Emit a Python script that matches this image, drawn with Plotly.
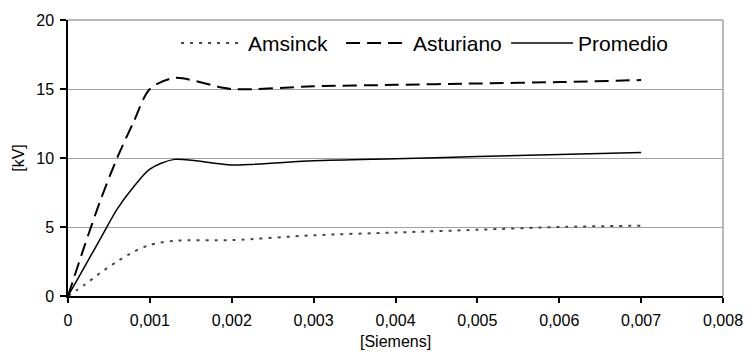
import plotly.graph_objects as go

x_vals = [0, 0.0002, 0.0004, 0.0006, 0.0008, 0.001, 0.0013, 0.002, 0.003, 0.004, 0.005, 0.006, 0.007]
amsinck = [0, 0.8, 1.7, 2.5, 3.2, 3.7, 4.0, 4.05, 4.4, 4.6, 4.8, 5.0, 5.1]
asturiano = [0, 3.6, 7.0, 10.0, 12.6, 15.0, 15.8, 15.0, 15.2, 15.3, 15.4, 15.5, 15.65]
promedio = [0, 2.1, 4.2, 6.3, 7.9, 9.2, 9.9, 9.5, 9.8, 9.95, 10.1, 10.25, 10.4]

x_ticks = [0, 0.001, 0.002, 0.003, 0.004, 0.005, 0.006, 0.007, 0.008]
x_tick_text = ["0", "0,001", "0,002", "0,003", "0,004", "0,005", "0,006", "0,007", "0,008"]
y_ticks = [0, 5, 10, 15, 20]

FONT = "Liberation Sans, Arial, sans-serif"

fig = go.Figure()
fig.add_trace(go.Scatter(x=x_vals, y=amsinck, mode="lines", name="Amsinck",
                         line=dict(color="#444444", width=2, dash="3px,6px", shape="spline", smoothing=0.8)))
fig.add_trace(go.Scatter(x=x_vals, y=asturiano, mode="lines", name="Asturiano",
                         line=dict(color="black", width=2, dash="14px,7px", shape="spline", smoothing=0.8)))
fig.add_trace(go.Scatter(x=x_vals, y=promedio, mode="lines", name="Promedio",
                         line=dict(color="black", width=1.5, shape="spline", smoothing=0.8)))

fig.update_layout(
    width=756, height=355,
    margin=dict(l=68, r=33, t=15, b=59),
    paper_bgcolor="white", plot_bgcolor="white",
    font=dict(family=FONT, size=16, color="black"),
    showlegend=True,
    legend=dict(orientation="h", x=0.165, y=0.915, xanchor="left", yanchor="middle",
                bgcolor="rgba(0,0,0,0)", font=dict(size=21, family=FONT),
                itemwidth=62, entrywidth=88, entrywidthmode="pixels", tracegroupgap=0),
    xaxis=dict(range=[0, 0.008], tickvals=x_ticks, ticktext=x_tick_text,
               showgrid=False, zeroline=False, showline=True, linecolor="black", linewidth=1.5,
               ticks="outside", ticklen=5, tickcolor="black", tickwidth=1.5,
               ticklabelstandoff=4, automargin=False),
    yaxis=dict(range=[0, 20], tickvals=y_ticks,
               showgrid=True, gridcolor="#A0A0A0", gridwidth=1, zeroline=False,
               showline=True, linecolor="black", linewidth=1.5,
               ticks="outside", ticklen=6, tickcolor="black", tickwidth=1.5,
               ticklabelstandoff=3,
               title=dict(text="[kV]", font=dict(size=16), standoff=8)),
    annotations=[
        dict(text="[Siemens]", xref="paper", yref="paper", x=0.5, y=-0.164,
             xanchor="center", yanchor="middle", showarrow=False, font=dict(size=16)),
    ],
    shapes=[
        dict(type="line", xref="paper", yref="paper", x0=0, x1=1, y0=1, y1=1,
             line=dict(color="#A0A0A0", width=1.5)),
        dict(type="line", xref="paper", yref="paper", x0=1, x1=1, y0=0, y1=1,
             line=dict(color="#A0A0A0", width=1.5)),
    ],
)

fig.write_html("out.html")
